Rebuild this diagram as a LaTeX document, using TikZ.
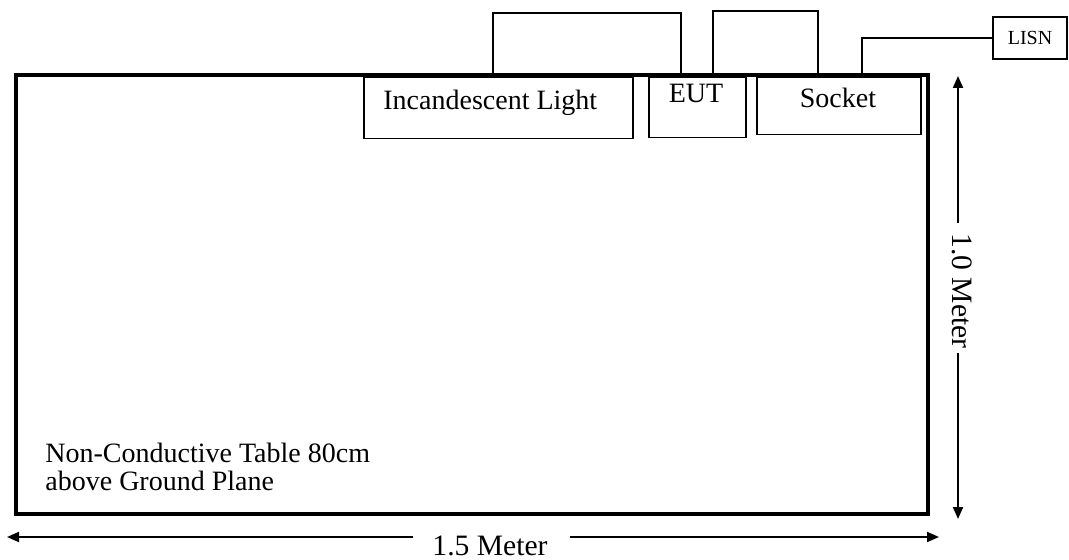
\documentclass[tikz,border=0pt]{standalone}
\usepackage{fontspec}
\setmainfont{Liberation Serif}
\usetikzlibrary{positioning, arrows.meta}

\begin{document}
\begin{tikzpicture}[x=0.5pt, y=-0.5pt,
    box/.style={draw, line width=0.75pt, inner sep=0pt},
    lbl/.style={font=\fontsize{14}{14}\selectfont, inner sep=0pt},
    dimlbl/.style={font=\fontsize{14.8}{16}\selectfont, inner sep=0pt},
    wire/.style={line width=0.75pt},
    dim/.style={line width=1pt, -{Triangle[length=6pt, width=5pt]}}]
  \useasboundingbox (0,0) rectangle (1069,560);

  % Table
  \draw[line width=1.6pt] (16,75) rectangle (928,514);
  \node[lbl, anchor=north west, align=left] (table) at (45,443)
    {Non-Conductive Table 80cm\\above Ground Plane};

  % Equipment on the table
  \node[box, anchor=north west, minimum width=134.5pt, minimum height=30.5pt] (light) at (363,77) {};
  \node[box, anchor=north west, minimum width=48.5pt, minimum height=30pt] (eut) at (648,77) {};
  \node[box, anchor=north west, minimum width=82pt, minimum height=28.5pt] (socket) at (756,77) {};
  \node[lbl, anchor=base west] (lighttxt) at (383,110) {Incandescent Light};
  \node[lbl, anchor=base] (euttxt) at (696,103) {EUT};
  \node[lbl, anchor=base] (sockettxt) at (838,108) {Socket};

  % LISN
  \node[box, minimum width=37pt, minimum height=21pt, font=\fontsize{10}{12}\selectfont] (lisn) at (1030,38) {LISN};

  % Cables
  \draw[wire] ([xshift=65pt]light.north west) -- ++(0,-64) -| ([xshift=16.5pt]eut.north west);
  \draw[wire] ([xshift=32.5pt]eut.north west) -- ++(0,-66) -| ([xshift=31pt]socket.north west);
  \draw[wire] ([xshift=53pt]socket.north west) |- (lisn.west);

  % Dimensions
  \node[dimlbl, rotate=-90] (height) at (962,291) {1.0 Meter};
  \coordinate (htop) at (958,76);
  \coordinate (hbot) at (958,519);
  \coordinate (hgapt) at (958,223);
  \coordinate (hgapb) at (958,353);
  \draw[dim] (hgapt) -- (htop);
  \draw[dim] (hgapb) -- (hbot);

  \node[dimlbl] (width) at (490,546) {1.5 Meter};
  \coordinate (wleft) at (7,537);
  \coordinate (wright) at (939,537);
  \coordinate (wgapl) at (413,537);
  \coordinate (wgapr) at (570,537);
  \draw[dim] (wgapl) -- (wleft);
  \draw[dim] (wgapr) -- (wright);
\end{tikzpicture}
\end{document}
